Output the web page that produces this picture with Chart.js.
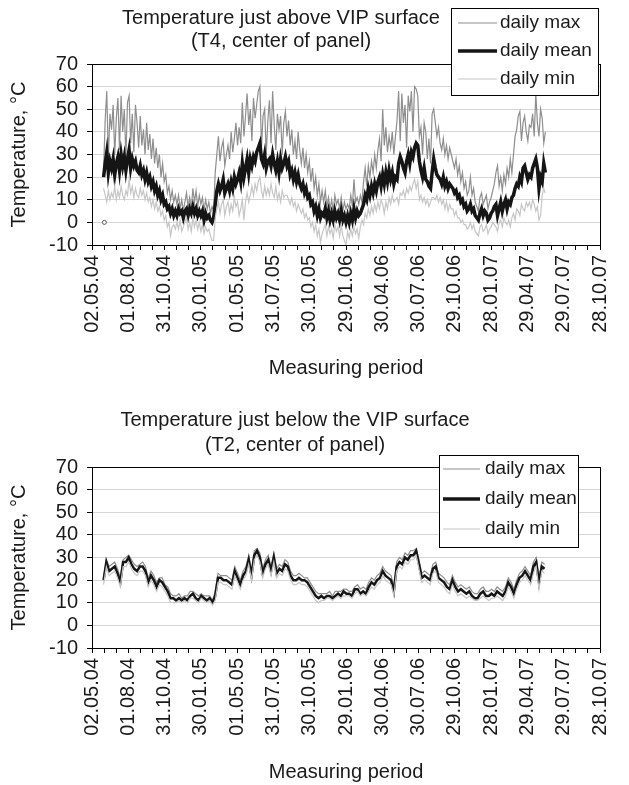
<!DOCTYPE html>
<html>
<head>
<meta charset="utf-8">
<script src="https://cdn.jsdelivr.net/npm/chart.js@4.4.0/dist/chart.umd.min.js"></script>
<style>
  body { margin: 0; background: #fff; }
  canvas { display: block; }
</style>
</head>
<body>
<canvas id="aboveChart" width="629" height="400"></canvas>
<canvas id="belowChart" width="629" height="385"></canvas>
<script>
// date ticks, one every 91 days from 02.05.04
const tickLabels = ['02.05.04', '01.08.04', '31.10.04', '30.01.05', '01.05.05', '31.07.05', '30.10.05',
    '29.01.06', '30.04.06', '30.07.06', '29.10.06', '28.01.07', '29.04.07', '29.07.07', '28.10.07'];
const tickStep = 91;

// T4, just above VIP surface: days since 02.05.04, read every 4 days off the picture
const aboveDays = [
    29, 33, 37, 41, 45, 49, 53, 57, 61, 65, 69, 73, 77, 81, 85, 89, 93, 97, 101, 105, 109, 113, 117,
    121, 125, 129, 133, 137, 141, 145, 149, 153, 157, 161, 165, 169, 173, 177, 181, 185, 189, 193, 197, 201, 205, 209,
    213, 217, 221, 225, 229, 233, 237, 241, 245, 249, 253, 257, 261, 265, 269, 273, 277, 281, 285, 289, 293, 297, 301,
    305, 309, 313, 317, 321, 325, 329, 333, 337, 341, 345, 349, 353, 357, 361, 365, 369, 373, 377, 381, 385, 389, 393,
    397, 401, 405, 409, 413, 417, 421, 425, 429, 433, 437, 441, 445, 449, 453, 457, 461, 465, 469, 473, 477, 481, 485,
    489, 493, 497, 501, 505, 509, 513, 517, 521, 525, 529, 533, 537, 541, 545, 549, 553, 557, 561, 565, 569, 573, 577,
    581, 585, 589, 593, 597, 601, 605, 609, 613, 617, 621, 625, 629, 633, 637, 641, 645, 649, 653, 657, 661, 665, 669,
    673, 677, 681, 685, 689, 693, 697, 701, 705, 709, 713, 717, 721, 725, 729, 733, 737, 741, 745, 749, 753, 757, 761,
    765, 769, 773, 777, 781, 785, 789, 793, 797, 801, 805, 809, 813, 817, 821, 825, 829, 833, 837, 841, 845, 849, 853,
    857, 861, 865, 869, 873, 877, 881, 885, 889, 893, 897, 901, 905, 909, 913, 917, 921, 925, 929, 933, 937, 941, 945,
    949, 953, 957, 961, 965, 969, 973, 977, 981, 985, 989, 993, 997, 1001, 1005, 1009, 1013, 1017, 1021, 1025, 1029, 1033, 1037,
    1041, 1045, 1049, 1053, 1057, 1061, 1065, 1069, 1073, 1077, 1081, 1085, 1089, 1093, 1097, 1101, 1105, 1109, 1113, 1117, 1121, 1125, 1129,
    1133, 1137];
const aboveMax = [
    22, 45, 58, 28, 48, 41, 52, 30, 46, 55, 32, 56, 40, 50, 29, 53, 56, 35, 48, 31, 52, 44, 33,
    47, 34, 41, 30, 44, 32, 39, 28, 37, 26, 33, 24, 30, 20, 26, 18, 21, 13, 16, 10, 14, 9, 12,
    8, 12, 6, 10, 5, 9, 13, 7, 11, 6, 15, 9, 14, 7, 12, 8, 11, 5, 10, 6, 9, 4, 7,
    5, 22, 30, 38, 27, 33, 36, 25, 30, 34, 28, 40, 31, 37, 44, 34, 42, 35, 53, 38, 47, 57, 43,
    50, 36, 55, 46, 52, 58, 60, 33, 47, 50, 30, 45, 54, 35, 58, 43, 32, 48, 41, 47, 30, 44, 49,
    38, 45, 34, 41, 30, 36, 28, 40, 32, 26, 33, 24, 30, 22, 27, 18, 24, 15, 20, 12, 17, 9, 14,
    9, 14, 7, 11, 6, 10, 5, 12, 8, 10, 6, 11, 5, 9, 6, 8, 6, 12, 7, 19, 9, 11, 8,
    12, 9, 18, 24, 16, 25, 20, 27, 22, 30, 24, 32, 37, 27, 50, 34, 42, 31, 38, 33, 40, 30, 38,
    45, 58, 36, 57, 44, 52, 33, 56, 49, 58, 40, 60, 59, 56, 38, 42, 30, 44, 40, 28, 37, 26, 48,
    50, 44, 38, 42, 35, 32, 37, 30, 34, 28, 33, 30, 27, 24, 28, 21, 25, 18, 22, 15, 18, 12, 14,
    20, 12, 15, 9, 7, 5, 11, 13, 8, 10, 12, 6, 9, 11, 14, 17, 22, 25, 16, 20, 14, 21, 17,
    24, 20, 28, 22, 30, 38, 41, 47, 49, 36, 44, 47, 40, 36, 43, 42, 48, 38, 57, 44, 38, 50, 46,
    35, 40];
const aboveMean = [
    20, 26, 31, 22, 27, 24, 28, 21, 26, 29, 23, 30, 25, 29, 23, 28, 32, 24, 28, 25, 27, 23, 22,
    25, 21, 23, 19, 22, 18, 20, 16, 18, 14, 16, 12, 14, 10, 12, 8, 9, 6, 7, 4, 6, 3, 5,
    3, 6, 4, 5, 2, 5, 6, 3, 6, 4, 7, 4, 6, 3, 5, 3, 5, 1, 4, 2, 3, 1, 0,
    2, 8, 14, 17, 14, 16, 19, 13, 15, 17, 14, 18, 15, 20, 17, 19, 22, 18, 26, 20, 24, 28, 22,
    28, 25, 29, 27, 31, 33, 35, 28, 26, 30, 24, 27, 28, 25, 30, 26, 23, 27, 22, 28, 24, 26, 29,
    25, 27, 21, 23, 19, 22, 18, 21, 17, 15, 17, 13, 15, 11, 12, 8, 9, 5, 7, 3, 6, 2, 4,
    3, 6, 2, 5, 1, 4, 1, 5, 2, 4, 1, 5, 1, 3, 0, 3, 0, 4, 1, 6, 2, 5, 3,
    4, 6, 8, 12, 10, 15, 12, 16, 13, 17, 14, 18, 20, 16, 21, 17, 22, 18, 23, 19, 22, 17, 20,
    19, 26, 29, 27, 24, 22, 27, 30, 26, 31, 29, 33, 35, 34, 27, 23, 20, 24, 19, 18, 16, 15, 22,
    28, 24, 21, 20, 19, 17, 20, 16, 18, 15, 17, 16, 15, 13, 14, 11, 12, 9, 10, 7, 8, 5, 6,
    8, 5, 6, 3, 2, 1, 4, 6, 3, 5, 4, 1, 2, 4, 5, 7, 8, 3, 6, 9, 5, 8, 10,
    6, 9, 8, 11, 12, 15, 17, 16, 20, 18, 24, 25, 22, 19, 21, 20, 24, 26, 28, 24, 15, 20, 18,
    26, 22];
const aboveMin = [
    15, 12, 9, 14, 10, 13, 11, 16, 10, 14, 11, 16, 12, 10, 14, 12, 19, 13, 16, 11, 15, 12, 11,
    15, 12, 14, 10, 13, 9, 11, 7, 10, 6, 9, 5, 7, 3, 5, 1, 3, -2, 0, -6, -2, -1, -3,
    0, -3, 1, -4, -2, 0, 2, -3, 0, -4, 2, -2, 1, -3, 0, -4, -1, -5, -2, -4, -3, -6, -8,
    -8, 2, 6, 9, 4, 8, 10, 3, 7, 9, 4, 8, 5, 11, 7, 9, 3, 6, 10, 1, 9, 13, 9,
    12, 16, 12, 17, 14, 18, 20, 14, 11, 16, 12, 15, 12, 17, 13, 11, 16, 10, 13, 9, 14, 11, 12,
    12, 10, 8, 11, 7, 9, 5, 8, 6, 4, 6, 2, 4, 1, 2, -2, 0, -4, -1, -6, -3, -9, -5,
    -3, -1, -6, -2, -5, -3, -7, -1, -4, -2, -6, -1, -6, -8, -10, -4, -7, -3, -6, -2, -5, -3, -7,
    -2, 1, -1, 4, 2, 6, 3, 7, 4, 8, 5, 9, 6, 10, 8, 4, 9, 6, 11, 8, 12, 9, 10,
    11, 8, 13, 12, 14, 11, 15, 13, 16, 14, 17, 19, 15, 18, 10, 12, 9, 11, 8, 10, 7, 9, 11,
    11, 10, 12, 9, 11, 8, 10, 6, 9, 5, 8, 6, 6, 3, 5, 2, 2, 0, 1, -1, -1, -3, -2,
    0, -3, -1, -4, -5, -6, -2, -1, -4, -3, -1, -5, -3, -2, 0, -1, -2, -4, 0, 1, -2, 2, 0,
    -1, 1, -2, 2, 4, 1, 6, 5, 3, 8, 6, 5, 9, 7, 9, 6, 10, 8, 5, 7, 1, 3, 12,
    15, 13];
// lone logged point at 0 °C near the start
const strayDays = [31];
const strayValues = [0];

// T2, just below VIP surface: read weekly
const belowDays = [
    29, 36, 43, 50, 57, 64, 71, 78, 85, 92, 99, 106, 113,
    120, 127, 134, 141, 148, 155, 162, 169, 176, 183, 190, 197, 204,
    211, 218, 225, 232, 239, 246, 253, 260, 267, 274, 281, 288, 295,
    302, 309, 316, 323, 330, 337, 344, 351, 358, 365, 372, 379, 386,
    393, 400, 407, 414, 421, 428, 435, 442, 449, 456, 463, 470, 477,
    484, 491, 498, 505, 512, 519, 526, 533, 540, 547, 554, 561, 568,
    575, 582, 589, 596, 603, 610, 617, 624, 631, 638, 645, 652, 659,
    666, 673, 680, 687, 694, 701, 708, 715, 722, 729, 736, 743, 750,
    757, 764, 771, 778, 785, 792, 799, 806, 813, 820, 827, 834, 841,
    848, 855, 862, 869, 876, 883, 890, 897, 904, 911, 918, 925, 932,
    939, 946, 953, 960, 967, 974, 981, 988, 995, 1002, 1009, 1016, 1023,
    1030, 1037, 1044, 1051, 1058, 1065, 1072, 1079, 1086, 1093, 1100, 1107, 1114,
    1121, 1128, 1135];
const belowMax = [
    21, 29, 26, 27, 28, 25, 21, 29, 30, 31, 29, 27, 26,
    27, 28, 26, 21, 24, 22, 19, 21, 21, 18, 17, 14, 13,
    13, 14, 12, 13, 13, 15, 15, 14, 13, 14, 13, 13, 13,
    11, 15, 23, 22, 22, 22, 21, 20, 26, 23, 20, 24, 26,
    31, 24, 33, 34, 32, 25, 29, 31, 26, 32, 25, 27, 26,
    29, 28, 24, 22, 22, 23, 22, 21, 21, 19, 17, 15, 14,
    14, 14, 14, 15, 13, 15, 15, 15, 16, 16, 15, 15, 17,
    18, 16, 17, 16, 19, 21, 20, 22, 23, 26, 24, 23, 22,
    17, 28, 30, 29, 32, 31, 33, 33, 34, 29, 23, 24, 23,
    22, 27, 28, 23, 22, 21, 19, 18, 22, 19, 17, 18, 17,
    16, 17, 15, 14, 14, 16, 17, 15, 15, 16, 15, 17, 16,
    15, 17, 21, 19, 16, 20, 23, 24, 26, 24, 22, 28, 30,
    21, 28, 27];
const belowMean = [
    20, 28, 24, 25, 26, 23, 19, 28, 28, 30, 27, 25, 24,
    26, 26, 24, 19, 22, 20, 17, 20, 19, 17, 15, 12, 12,
    11, 12, 11, 12, 11, 13, 14, 12, 11, 13, 12, 11, 12,
    10, 13, 21, 21, 20, 20, 19, 18, 24, 21, 18, 22, 24,
    29, 22, 31, 33, 30, 23, 27, 29, 24, 30, 23, 25, 24,
    27, 26, 22, 20, 20, 21, 20, 20, 19, 17, 15, 13, 12,
    13, 12, 13, 13, 12, 13, 14, 13, 15, 14, 14, 13, 16,
    16, 14, 15, 14, 17, 19, 18, 20, 21, 24, 22, 21, 20,
    15, 26, 28, 27, 30, 29, 31, 31, 33, 27, 21, 22, 21,
    20, 25, 26, 21, 20, 19, 17, 16, 20, 17, 15, 16, 15,
    14, 15, 13, 12, 12, 14, 15, 13, 13, 14, 13, 15, 14,
    13, 15, 19, 17, 14, 18, 21, 22, 24, 22, 20, 26, 28,
    19, 26, 25];
const belowMin = [
    18, 26, 22, 23, 24, 21, 17, 26, 26, 28, 25, 23, 22,
    24, 24, 22, 17, 20, 18, 15, 18, 17, 15, 13, 10, 10,
    10, 11, 10, 11, 10, 12, 12, 11, 10, 12, 11, 10, 11,
    9, 11, 19, 19, 18, 18, 17, 16, 22, 19, 16, 20, 22,
    27, 20, 29, 31, 28, 21, 25, 27, 22, 28, 21, 23, 22,
    25, 24, 20, 18, 18, 19, 18, 18, 17, 15, 13, 11, 10,
    11, 11, 12, 12, 11, 12, 13, 12, 13, 13, 13, 12, 14,
    15, 13, 14, 13, 15, 17, 16, 18, 19, 22, 20, 19, 18,
    13, 24, 26, 25, 28, 27, 29, 29, 31, 25, 19, 20, 19,
    18, 23, 24, 19, 18, 17, 15, 14, 18, 15, 13, 14, 13,
    12, 13, 12, 11, 11, 12, 13, 12, 11, 12, 12, 13, 12,
    11, 13, 17, 15, 12, 16, 19, 20, 22, 20, 18, 23, 26,
    16, 24, 23];

const FONT = '"Liberation Sans", Arial, sans-serif';
const INK = '#1a1a1a';
const MAX_COLOR = '#8e8e8e';
const MEAN_COLOR = '#151515';
const MIN_COLOR = '#c6c6c6';

const toPoints = (days, values) => values.map((v, i) => ({ x: days[i], y: v }));

// two minor ticks between each labelled date
const axisTicks = [];
for (let i = 0; i <= (tickLabels.length - 1) * 3; i++) axisTicks.push(i * tickStep / 3);

const panelTitle = {
    id: 'panelTitle',
    afterDraw(chart, args, opts) {
        const ctx = chart.ctx;
        ctx.save();
        ctx.font = '20px ' + FONT;
        ctx.fillStyle = INK;
        ctx.textAlign = 'center';
        ctx.textBaseline = 'middle';
        opts.lines.forEach((line, i) => ctx.fillText(line, opts.x, opts.y + i * opts.gap));
        ctx.restore();
    }
};

const plotFrame = {
    id: 'plotFrame',
    afterDatasetsDraw(chart) {
        const { ctx, chartArea: a } = chart;
        ctx.save();
        ctx.strokeStyle = '#000';
        ctx.lineWidth = 1;
        ctx.strokeRect(Math.round(a.left) + 0.5, Math.round(a.top) + 0.5,
            Math.round(a.right - a.left), Math.round(a.bottom - a.top));
        ctx.restore();
    }
};

const boxLegend = {
    id: 'boxLegend',
    afterDraw(chart, args, opts) {
        const ctx = chart.ctx;
        const items = [
            { text: 'daily max', color: MAX_COLOR, width: 1.2 },
            { text: 'daily mean', color: MEAN_COLOR, width: 3.5 },
            { text: 'daily min', color: MIN_COLOR, width: 1.2 }
        ];
        ctx.save();
        ctx.fillStyle = '#fff';
        ctx.fillRect(opts.x, opts.y, opts.w, opts.h);
        ctx.strokeStyle = '#000';
        ctx.lineWidth = 1;
        ctx.strokeRect(opts.x + 0.5, opts.y + 0.5, opts.w, opts.h);
        ctx.font = '19px ' + FONT;
        ctx.textBaseline = 'middle';
        items.forEach((item, i) => {
            const y = opts.y + opts.first + i * opts.row;
            ctx.strokeStyle = item.color;
            ctx.lineWidth = item.width;
            ctx.beginPath();
            ctx.moveTo(opts.x + opts.lineFrom, y);
            ctx.lineTo(opts.x + opts.lineTo, y);
            ctx.stroke();
            ctx.fillStyle = INK;
            ctx.fillText(item.text, opts.x + opts.textAt, y);
        });
        ctx.restore();
    }
};

function makeChart(canvasId, series, look) {
    const datasets = [
        { label: 'daily min', data: toPoints(series.days, series.min), borderColor: MIN_COLOR, borderWidth: 1.2 },
        { label: 'daily mean', data: toPoints(series.days, series.mean), borderColor: MEAN_COLOR, borderWidth: look.meanWidth },
        { label: 'daily max', data: toPoints(series.days, series.max), borderColor: MAX_COLOR, borderWidth: 1.2 }
    ];
    if (series.strayDays) {
        datasets.push({
            label: 'stray', data: toPoints(series.strayDays, series.strayValues), showLine: false,
            pointRadius: 2, pointBorderWidth: 1, pointBorderColor: '#555', pointBackgroundColor: '#fff'
        });
    }
    return new Chart(document.getElementById(canvasId), {
        type: 'line',
        data: { datasets: datasets },
        options: {
            responsive: false,
            animation: false,
            devicePixelRatio: 1,
            layout: { padding: { top: look.top, right: look.right, bottom: 0, left: 0 } },
            elements: { point: { radius: 0 }, line: { tension: 0 } },
            scales: {
                x: {
                    type: 'linear',
                    min: 0,
                    max: (tickLabels.length - 1) * tickStep,
                    afterBuildTicks: (scale) => { scale.ticks = axisTicks.map(v => ({ value: v })); },
                    afterFit: (scale) => { scale.height = look.xHeight; },
                    ticks: {
                        autoSkip: false,
                        maxRotation: 90,
                        minRotation: 90,
                        padding: 5,
                        color: INK,
                        font: { family: FONT, size: 20 },
                        callback: (value) => {
                            const idx = Math.round(value / tickStep * 3);
                            return idx % 3 === 0 ? tickLabels[idx / 3] : '';
                        }
                    },
                    grid: { drawOnChartArea: false, tickLength: 5, tickColor: '#000' },
                    border: { color: '#000' },
                    title: {
                        display: true,
                        text: 'Measuring period',
                        color: INK,
                        font: { family: FONT, size: 20 },
                        padding: { top: 0, bottom: look.xTitlePad }
                    }
                },
                y: {
                    min: -10,
                    max: 70,
                    afterFit: (scale) => { scale.width = 92; },
                    ticks: {
                        stepSize: 10,
                        autoSkip: false,
                        padding: 9,
                        color: INK,
                        font: { family: FONT, size: 20 }
                    },
                    grid: { color: '#d6d6d6', tickLength: 5, tickColor: '#000' },
                    border: { color: '#000' },
                    title: {
                        display: true,
                        text: 'Temperature, °C',
                        color: INK,
                        font: { family: FONT, size: 20 },
                        padding: { top: 7, bottom: 0 }
                    }
                }
            },
            plugins: {
                legend: { display: false },
                tooltip: { enabled: false },
                panelTitle: look.title,
                boxLegend: look.legend
            }
        },
        plugins: [plotFrame, panelTitle, boxLegend]
    });
}

makeChart('aboveChart',
    { days: aboveDays, max: aboveMax, mean: aboveMean, min: aboveMin, strayDays: strayDays, strayValues: strayValues },
    {
        top: 64, right: 10, xHeight: 155, xTitlePad: 20, meanWidth: 3.5,
        title: { lines: ['Temperature just above VIP surface', '(T4, center of panel)'], x: 281, y: 18, gap: 23 },
        legend: { x: 451, y: 8, w: 147, h: 87, first: 15, row: 28, lineFrom: 7, lineTo: 46, textAt: 49 }
    });

makeChart('belowChart',
    { days: belowDays, max: belowMax, mean: belowMean, min: belowMin },
    {
        top: 67, right: 12, xHeight: 137, xTitlePad: 1, meanWidth: 2.5,
        title: { lines: ['Temperature just below the VIP surface', '(T2, center of panel)'], x: 295, y: 20, gap: 25 },
        legend: { x: 439, y: 55, w: 139, h: 92, first: 14, row: 30, lineFrom: 4, lineTo: 41, textAt: 46 }
    });
</script>
</body>
</html>
